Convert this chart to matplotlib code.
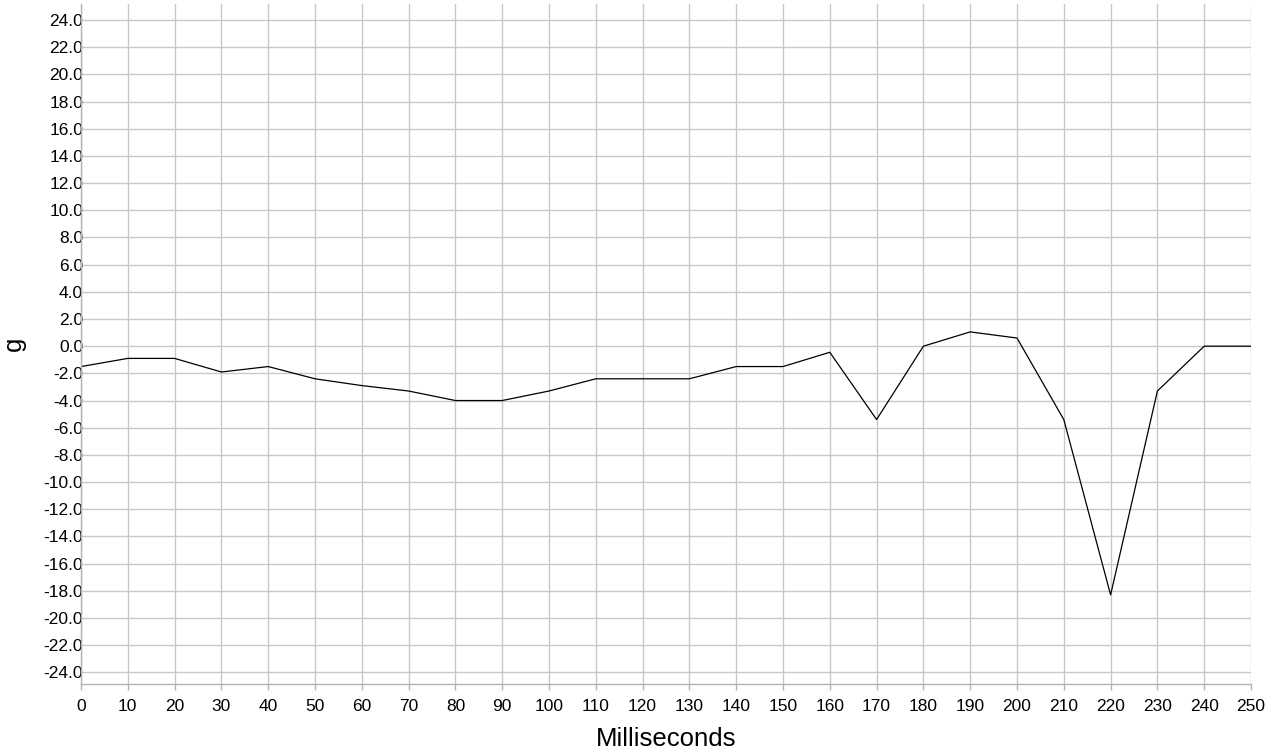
import matplotlib
matplotlib.use("Agg")
import matplotlib.pyplot as plt
import numpy as np

ms = [0, 10, 20, 30, 40, 50, 60, 70, 80, 90, 100, 110, 120, 130, 140, 150,
      160, 170, 180, 190, 200, 210, 220, 230, 240, 250]
g_values = [-1.5, -0.9, -0.9, -1.9, -1.5, -2.4, -2.9, -3.3, -4.0, -4.0, -3.3, -2.4,
            -2.4, -2.4, -1.5, -1.5, -0.45, -5.4, 0.0, 1.05, 0.6, -5.4, -18.3, -3.3,
            0.0, 0.0]
x_ticks = list(range(0, 251, 10))
y_ticks = list(range(-24, 25, 2))

plt.rcParams['font.family'] = ['Liberation Sans', 'DejaVu Sans']

fig = plt.figure(figsize=(12.75, 7.52), dpi=100)
ax = fig.add_axes([81 / 1275, 1 - 684 / 752, (1251 - 81) / 1275, (684 - 4) / 752])

ax.plot(ms, g_values, color='black', linewidth=0.9)

ax.set_xlim(0, 250)
ax.set_ylim(-24.86, 25.18)
ax.set_xticks(x_ticks)
ax.set_yticks(y_ticks)
ax.set_yticklabels([f"{v:.1f}" for v in y_ticks])

ax.grid(True, color='#c8c8c8', linewidth=1.0)
ax.set_axisbelow(True)
for s in ['top', 'right']:
    ax.spines[s].set_visible(False)
for s in ['left', 'bottom']:
    ax.spines[s].set_color('#b3b3b3')
    ax.spines[s].set_linewidth(1.0)

ax.tick_params(axis='x', length=4, width=1, color='#b3b3b3', pad=7,
               labelsize=12.5, labelcolor='black')
ax.tick_params(axis='y', length=0, pad=-1.5, labelsize=12.5, labelcolor='black')

ax.set_xlabel('Milliseconds', fontsize=18.5, labelpad=9)
ax.set_ylabel('g', fontsize=18.5, labelpad=13)

fig.savefig('out.png', dpi=100)
